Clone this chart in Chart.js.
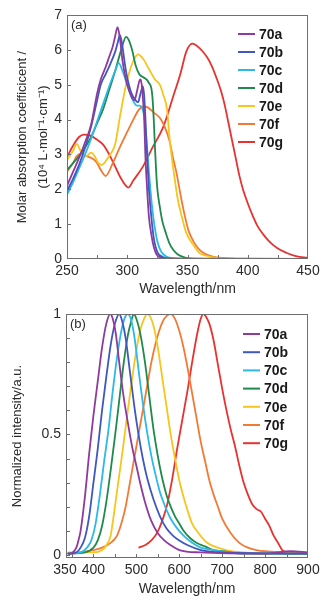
<!DOCTYPE html>
<html>
<head>
<meta charset="utf-8">
<script src="https://cdn.jsdelivr.net/npm/chart.js@4.4.1/dist/chart.umd.min.js"></script>
<style>
  html, body { margin: 0; padding: 0; background: #fff; }
  canvas { display: block; }
</style>
</head>
<body>
<canvas id="absChart" width="328" height="300"></canvas>
<canvas id="emChart" width="328" height="300"></canvas>
<script>
// compound names and line colours
const compounds = ['70a', '70b', '70c', '70d', '70e', '70f', '70g'];
const lineColors = ['#8e3a9e', '#4057c0', '#2cb9e8', '#1f8a4c', '#f7c51c', '#f37a35', '#e8322f'];

// (a) absorption, x = wavelength (nm), y = 10^4 L/mol/cm
const abs70aX = [250,255,260,265,270,275,278,282,285,288,290,292,294,296,298,300,303,306,308,310,311,312,313,314,315,316,317,318,320,322,324,326,330,340,450];
const abs70aY = [2.1,2.5,2.9,3.35,3.85,4.75,5.15,5.5,5.8,6.1,6.4,6.65,6.3,5.7,5.3,5.0,4.7,4.55,4.8,5.1,5.15,5.0,4.6,4.1,3.0,2.3,1.7,1.2,0.7,0.35,0.15,0.07,0.02,0,0];
const abs70bX = [250,255,260,265,270,275,278,282,286,290,292,294,296,298,300,303,306,309,311,313,314,315,316,317,318,320,322,325,330,335,450];
const abs70bY = [1.95,2.3,2.7,3.2,3.8,4.55,5.0,5.3,5.6,5.95,6.2,6.42,6.1,5.6,5.2,4.8,4.6,4.5,4.75,4.95,4.7,4.1,3.3,2.6,2.0,1.2,0.6,0.2,0.05,0.02,0];
const abs70cX = [250,255,260,265,270,275,280,285,290,293,296,300,304,308,310,312,314,316,318,320,322,325,328,332,340,450];
const abs70cY = [1.85,2.2,2.6,3.0,3.45,3.95,4.45,4.95,5.4,5.62,5.4,5.0,4.6,4.4,4.4,4.35,4.1,3.4,2.5,1.7,1.1,0.5,0.22,0.08,0.02,0];
const abs70dX = [250,255,260,265,270,275,280,285,290,295,299,301,304,307,310,313,316,318,320,321,322,323,324,325,327,329,332,335,338,342,348,355,450];
const abs70dY = [2.55,2.75,2.95,3.2,3.5,3.9,4.3,4.85,5.4,6.0,6.37,6.3,6.0,5.55,5.3,5.22,5.15,5.05,4.9,4.6,4.0,3.2,2.5,2.0,1.5,1.1,0.75,0.45,0.27,0.13,0.04,0.01,0];
const abs70eX = [250,255,258,262,266,270,273,276,279,283,286,290,294,299,303,306,309,313,318,323,327,330,333,335,338,342,345,349,355,360,365,370,380,390,450];
const abs70eY = [2.85,3.1,3.3,3.05,2.95,3.05,2.95,2.75,2.7,2.85,3.0,3.3,4.1,5.0,5.5,5.75,5.87,5.75,5.45,5.15,5.0,4.7,4.3,3.5,2.65,1.7,1.25,0.75,0.4,0.17,0.1,0.05,0.02,0,0];
const abs70fX = [250,255,258,262,266,270,274,279,282,288,294,300,305,309,313,317,322,327,331,335,338,341,345,348,351,355,360,365,371,380,390,450];
const abs70fY = [2.5,2.75,2.95,3.02,2.95,2.9,2.8,2.5,2.38,2.75,3.22,3.65,4.0,4.25,4.38,4.35,4.2,4.05,3.8,3.4,2.9,2.45,1.7,1.2,0.8,0.5,0.26,0.14,0.07,0.03,0.01,0];
const abs70gX = [250,255,260,264,270,275,280,285,290,295,301,305,313,321,330,338,344,349,354,360,366,370,374,378,381,384,387,390,393,396,400,404,408,413,418,425,432,440,450];
const abs70gY = [2.93,3.25,3.5,3.57,3.53,3.42,3.28,3.0,2.65,2.3,2.05,2.25,2.65,3.2,3.8,4.65,5.3,5.95,6.18,6.05,5.8,5.55,5.2,4.8,4.4,3.9,3.4,2.9,2.4,2.0,1.6,1.25,0.95,0.7,0.5,0.3,0.18,0.08,0.03];

// (b) normalized emission, x = wavelength (nm)
const em70aX = [340,350,360,365,370,380,390,400,410,420,430,439,445,452,460,470,480,490,500,510,520,535,550,565,580,600,650,800,860,900];
const em70aY = [0.005,0.008,0.03,0.06,0.1,0.24,0.42,0.58,0.72,0.86,0.96,1.0,0.98,0.92,0.8,0.66,0.55,0.45,0.37,0.29,0.22,0.14,0.09,0.06,0.04,0.02,0.01,0.005,0.015,0.01];
const em70bX = [340,360,370,380,390,400,410,420,430,440,450,460,467,475,485,495,505,515,525,540,555,570,585,600,620,650,700,900];
const em70bY = [0.005,0.01,0.03,0.07,0.16,0.3,0.44,0.6,0.74,0.87,0.96,1.0,0.97,0.9,0.76,0.62,0.5,0.4,0.32,0.23,0.16,0.11,0.08,0.06,0.04,0.02,0.01,0.005];
const em70cX = [340,370,385,395,405,415,425,435,445,455,465,472,480,487,495,505,515,525,535,545,555,565,580,595,610,630,650,680,720,900];
const em70cY = [0.005,0.01,0.03,0.06,0.13,0.25,0.39,0.52,0.68,0.82,0.93,0.98,1.0,0.98,0.91,0.77,0.63,0.51,0.41,0.33,0.26,0.21,0.15,0.11,0.08,0.05,0.03,0.02,0.01,0.005];
const em70dX = [340,380,400,410,420,430,440,450,460,470,480,488,494,500,510,520,530,540,550,560,570,580,590,600,610,625,640,660,680,700,750,900];
const em70dY = [0.005,0.01,0.03,0.06,0.12,0.22,0.35,0.49,0.64,0.79,0.91,0.97,1.0,0.98,0.91,0.8,0.66,0.52,0.41,0.32,0.25,0.2,0.16,0.13,0.1,0.07,0.05,0.035,0.02,0.015,0.005,0.005];
const em70eX = [340,400,420,430,440,450,460,470,480,490,500,510,518,525,532,540,550,560,570,580,590,600,610,620,630,645,665,690,720,750,800,900];
const em70eY = [0.01,0.01,0.02,0.04,0.08,0.2,0.33,0.46,0.6,0.73,0.85,0.94,0.98,1.0,0.99,0.95,0.86,0.74,0.62,0.5,0.4,0.31,0.24,0.18,0.13,0.09,0.05,0.03,0.015,0.01,0.005,0.005];
const em70fX = [340,400,420,440,455,465,475,485,495,505,515,525,535,545,555,565,580,590,600,610,620,630,640,650,660,670,680,690,700,720,740,760,780,800,850,900];
const em70fY = [0.005,0.02,0.03,0.05,0.08,0.13,0.2,0.3,0.4,0.5,0.6,0.7,0.8,0.88,0.94,0.98,1.0,0.98,0.93,0.86,0.77,0.67,0.57,0.47,0.39,0.31,0.25,0.2,0.15,0.09,0.05,0.03,0.02,0.015,0.01,0.005];
const em70gX = [505,520,535,548,560,572,584,595,607,619,630,642,650,656,662,670,680,690,700,710,720,730,740,750,760,770,780,790,800,810,820,830,840,850,860,900];
const em70gY = [0.03,0.04,0.06,0.09,0.14,0.21,0.32,0.44,0.56,0.68,0.8,0.92,0.98,1.0,0.99,0.96,0.89,0.79,0.69,0.6,0.52,0.45,0.37,0.3,0.25,0.21,0.19,0.18,0.15,0.12,0.08,0.05,0.02,0.01,0.005,0.005];

// tick labels
const absXTicks = [250, 300, 350, 400, 450];
const absYTicks = [0, 1, 2, 3, 4, 5, 6, 7];
const emXTicks = [350, 400, 500, 600, 700, 800, 900];
const emYTicks = [0, 0.5, 1];

const absX = [abs70aX, abs70bX, abs70cX, abs70dX, abs70eX, abs70fX, abs70gX];
const absY = [abs70aY, abs70bY, abs70cY, abs70dY, abs70eY, abs70fY, abs70gY];
const emX = [em70aX, em70bX, em70cX, em70dX, em70eX, em70fX, em70gX];
const emY = [em70aY, em70bY, em70cY, em70dY, em70eY, em70fY, em70gY];

Chart.defaults.font.family = "'Liberation Sans', Arial, sans-serif";
Chart.defaults.color = '#2b2b2b';

function makeDatasets(xs, ys) {
    return compounds.map((name, i) => ({
        label: name,
        data: xs[i].map((x, j) => ({ x: x, y: ys[i][j] })),
        borderColor: lineColors[i],
        backgroundColor: lineColors[i],
        borderWidth: 1.8,
        pointRadius: 0,
        cubicInterpolationMode: 'monotone',
        fill: false
    }));
}

// frame, inward ticks, in-plot legend and panel letter
const panelPlugin = {
    id: 'panel',
    afterDatasetsDraw(chart, args, opts) {
        const { ctx, chartArea: a } = chart;
        const xs = chart.scales.x, ys = chart.scales.y;
        ctx.save();
        ctx.strokeStyle = '#6e6e6e';
        ctx.lineWidth = 1;
        ctx.strokeRect(Math.round(a.left) + 0.5, Math.round(a.top) + 0.5,
            Math.round(a.right - a.left) - 1, Math.round(a.bottom - a.top) - 1);

        ctx.beginPath();
        for (let v = opts.xTickFrom; v <= xs.max + 1e-9; v += opts.xTickStep) {
            const px = Math.round(xs.getPixelForValue(v)) + 0.5;
            if (px <= a.left + 1 || px >= a.right - 1) continue;
            ctx.moveTo(px, a.bottom);
            ctx.lineTo(px, a.bottom - 4);
        }
        for (let v = opts.yTickFrom; v <= ys.max + 1e-9; v += opts.yTickStep) {
            const py = Math.round(ys.getPixelForValue(v)) + 0.5;
            if (py <= a.top + 1 || py >= a.bottom - 1) continue;
            ctx.moveTo(a.left, py);
            ctx.lineTo(a.left + 4, py);
        }
        ctx.stroke();

        // panel letter
        ctx.fillStyle = '#2b2b2b';
        ctx.font = "13px 'Liberation Sans', Arial, sans-serif";
        ctx.textBaseline = 'middle';
        ctx.textAlign = 'left';
        ctx.fillText(opts.letter, a.left + 4, a.top + 10);

        // legend
        ctx.font = "bold 14px 'Liberation Sans', Arial, sans-serif";
        chart.data.datasets.forEach((ds, i) => {
            const y = a.top + opts.legendTop + i * opts.legendGap;
            const x0 = a.right - opts.legendRight;
            ctx.strokeStyle = ds.borderColor;
            ctx.lineWidth = 2;
            ctx.beginPath();
            ctx.moveTo(x0, y);
            ctx.lineTo(x0 + 17, y);
            ctx.stroke();
            ctx.fillStyle = '#1a1a1a';
            ctx.fillText(ds.label, x0 + 21, y + 1);
        });
        ctx.restore();
    }
};

function axisFont(size) {
    return { size: size };
}

new Chart(document.getElementById('absChart'), {
    type: 'line',
    data: { datasets: makeDatasets(absX, absY) },
    plugins: [panelPlugin],
    options: {
        responsive: false,
        animation: false,
        layout: { padding: { top: 15, right: 20, left: 0, bottom: 0 } },
        plugins: {
            legend: { display: false },
            tooltip: { enabled: false },
            panel: { letter: '(a)', xTickFrom: 250, xTickStep: 25, yTickFrom: 0, yTickStep: 1,
                     legendTop: 19, legendGap: 18, legendRight: 70 }
        },
        scales: {
            x: {
                type: 'linear', min: 250, max: 450,
                afterBuildTicks: s => { s.ticks = absXTicks.map(v => ({ value: v })); },
                afterFit: s => { s.height = 41; },
                grid: { display: false, drawTicks: false },
                border: { display: false },
                ticks: { font: axisFont(14), padding: 4, maxRotation: 0, autoSkip: false },
                title: { display: true, text: 'Wavelength/nm', font: axisFont(14), padding: { top: 0, bottom: 2 } }
            },
            y: {
                type: 'linear', min: 0, max: 7,
                afterBuildTicks: s => { s.ticks = absYTicks.map(v => ({ value: v })); },
                afterFit: s => { s.width = 67; },
                grid: { display: false, drawTicks: false },
                border: { display: false },
                ticks: { font: axisFont(14), padding: 5 },
                title: { display: true, text: ['Molar absorption coefficicent /', '(10\u2074 L\u00b7mol\u207b\u00b9\u00b7cm\u207b\u00b9)'],
                         font: { size: 13, lineHeight: 1.6 }, padding: { top: 12, bottom: 0 } }
            }
        }
    }
});

new Chart(document.getElementById('emChart'), {
    type: 'line',
    data: { datasets: makeDatasets(emX, emY) },
    plugins: [panelPlugin],
    options: {
        responsive: false,
        animation: false,
        layout: { padding: { top: 14, right: 20, left: 0, bottom: 0 } },
        plugins: {
            legend: { display: false },
            tooltip: { enabled: false },
            panel: { letter: '(b)', xTickFrom: 350, xTickStep: 50, yTickFrom: 0, yTickStep: 0.1,
                     legendTop: 20, legendGap: 18.2, legendRight: 65 }
        },
        scales: {
            x: {
                type: 'linear', min: 336, max: 900,
                afterBuildTicks: s => { s.ticks = emXTicks.map(v => ({ value: v })); },
                afterFit: s => { s.height = 42; },
                grid: { display: false, drawTicks: false },
                border: { display: false },
                // first label nudged left (trailing spaces) so it clears "400"
                ticks: { font: axisFont(14), padding: 4, maxRotation: 0, autoSkip: false,
                         callback: v => (v === 350 ? '350\u2002\u2002' : String(v)) },
                title: { display: true, text: 'Wavelength/nm', font: axisFont(14), padding: { top: 0, bottom: 2 } }
            },
            y: {
                type: 'linear', min: -0.013, max: 1,
                afterBuildTicks: s => { s.ticks = emYTicks.map(v => ({ value: v })); },
                afterFit: s => { s.width = 66; },
                grid: { display: false, drawTicks: false },
                border: { display: false },
                ticks: { font: axisFont(14), padding: 5, callback: v => String(v) },
                title: { display: true, text: 'Normalized intensity/a.u.', font: { size: 13 }, padding: { top: 10, bottom: 0 } }
            }
        }
    }
});
</script>
</body>
</html>
